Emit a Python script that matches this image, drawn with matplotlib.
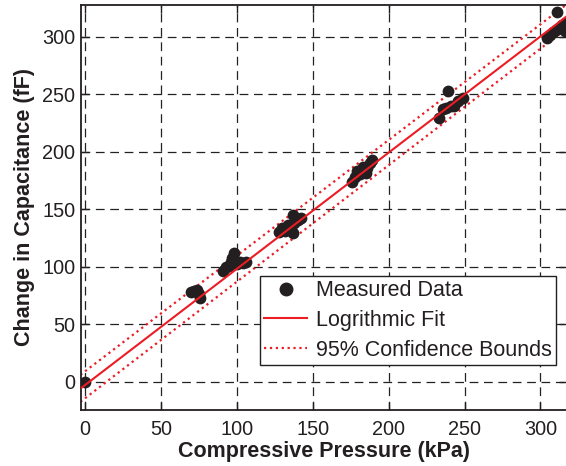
import matplotlib
matplotlib.use("Agg")
import matplotlib.pyplot as plt
from matplotlib.lines import Line2D

# ---- data ----
pressure_kpa = [0, 70, 72, 74, 75, 76,
                91, 93, 95, 96, 97, 98, 100, 102, 104, 106,
                128, 130, 132, 134, 136, 137, 137, 138, 140, 142,
                176, 178, 179, 181, 183, 185, 186, 188, 189,
                233, 236, 238, 239, 241, 243, 246, 249,
                304, 306, 308, 310, 311, 312, 314, 316, 316]
capacitance_ff = [0, 78, 79, 80, 76, 73,
                  96, 100, 101, 104, 108, 112, 102, 104, 103, 104,
                  130, 134, 131, 136, 132, 145, 129, 138, 141, 142,
                  174, 178, 183, 181, 187, 182, 186, 190, 193,
                  229, 237, 238, 253, 240, 240, 244, 247,
                  299, 302, 304, 306, 322, 308, 310, 312, 305]

fit_x = [-3, 317]
fit_y = [-6, 317.6]
upper_y = [6, 328]
lower_y = [-17.5, 307]

x_ticks = [0, 50, 100, 150, 200, 250, 300]
y_ticks = [0, 50, 100, 150, 200, 250, 300]

red = "#ec1c24"
dark = "#231f20"

plt.rcParams["font.family"] = ["Liberation Sans", "DejaVu Sans"]

fig = plt.figure(figsize=(5.66, 4.66), dpi=100)
ax = fig.add_axes([81/566, 1-410/466, (567-81)/566, (410-4.7)/466])

ax.set_xlim(-2.6, 317.5)
ax.set_ylim(-24.6, 328)

ax.grid(True, color="#222222", linestyle=(0, (7, 4.5)), linewidth=0.9)
ax.set_axisbelow(True)

ax.plot(fit_x, upper_y, color=red, linestyle=":", linewidth=1.6, zorder=2)
ax.plot(fit_x, lower_y, color=red, linestyle=":", linewidth=1.6, zorder=2)
ax.scatter(pressure_kpa, capacitance_ff, s=72, color=dark, zorder=3, linewidths=0)
ax.plot(fit_x, fit_y, color=red, linestyle="-", linewidth=1.5, zorder=4)

ax.set_xticks(x_ticks)
ax.set_yticks(y_ticks)
ax.tick_params(direction="in", length=6, width=1, top=True, right=True,
               labelsize=14.3, colors="#231f20")
ax.tick_params(axis="x", pad=7)
ax.tick_params(axis="y", pad=4)
for s in ax.spines.values():
    s.set_linewidth(1.3)
    s.set_color("#231f20")

ax.set_xlabel("Compressive Pressure (kPa)", fontsize=15.5, fontweight="bold",
              color="#231f20", labelpad=2)
ax.set_ylabel("Change in Capacitance (fF)", fontsize=15.5, fontweight="bold",
              color="#231f20", labelpad=5)

handles = [
    Line2D([], [], marker="o", linestyle="none", color=dark, markersize=9),
    Line2D([], [], color=red, linestyle="-", linewidth=1.5),
    Line2D([], [], color=red, linestyle=":", linewidth=1.6),
]
labels = ["Measured Data", "Logrithmic Fit", "95% Confidence Bounds"]
leg = ax.legend(handles, labels, loc="upper left",
                bbox_to_anchor=((260-81)/486, 1-(276-4.7)/405.3),
                fontsize=15.5, frameon=True, fancybox=False, framealpha=1,
                edgecolor="#231f20", borderpad=0.2, labelspacing=0.4,
                handlelength=2.0, handletextpad=0.4, borderaxespad=0)
leg.get_frame().set_linewidth(1.0)
for t in leg.get_texts():
    t.set_color("#231f20")

fig.savefig("out.png", dpi=100)
